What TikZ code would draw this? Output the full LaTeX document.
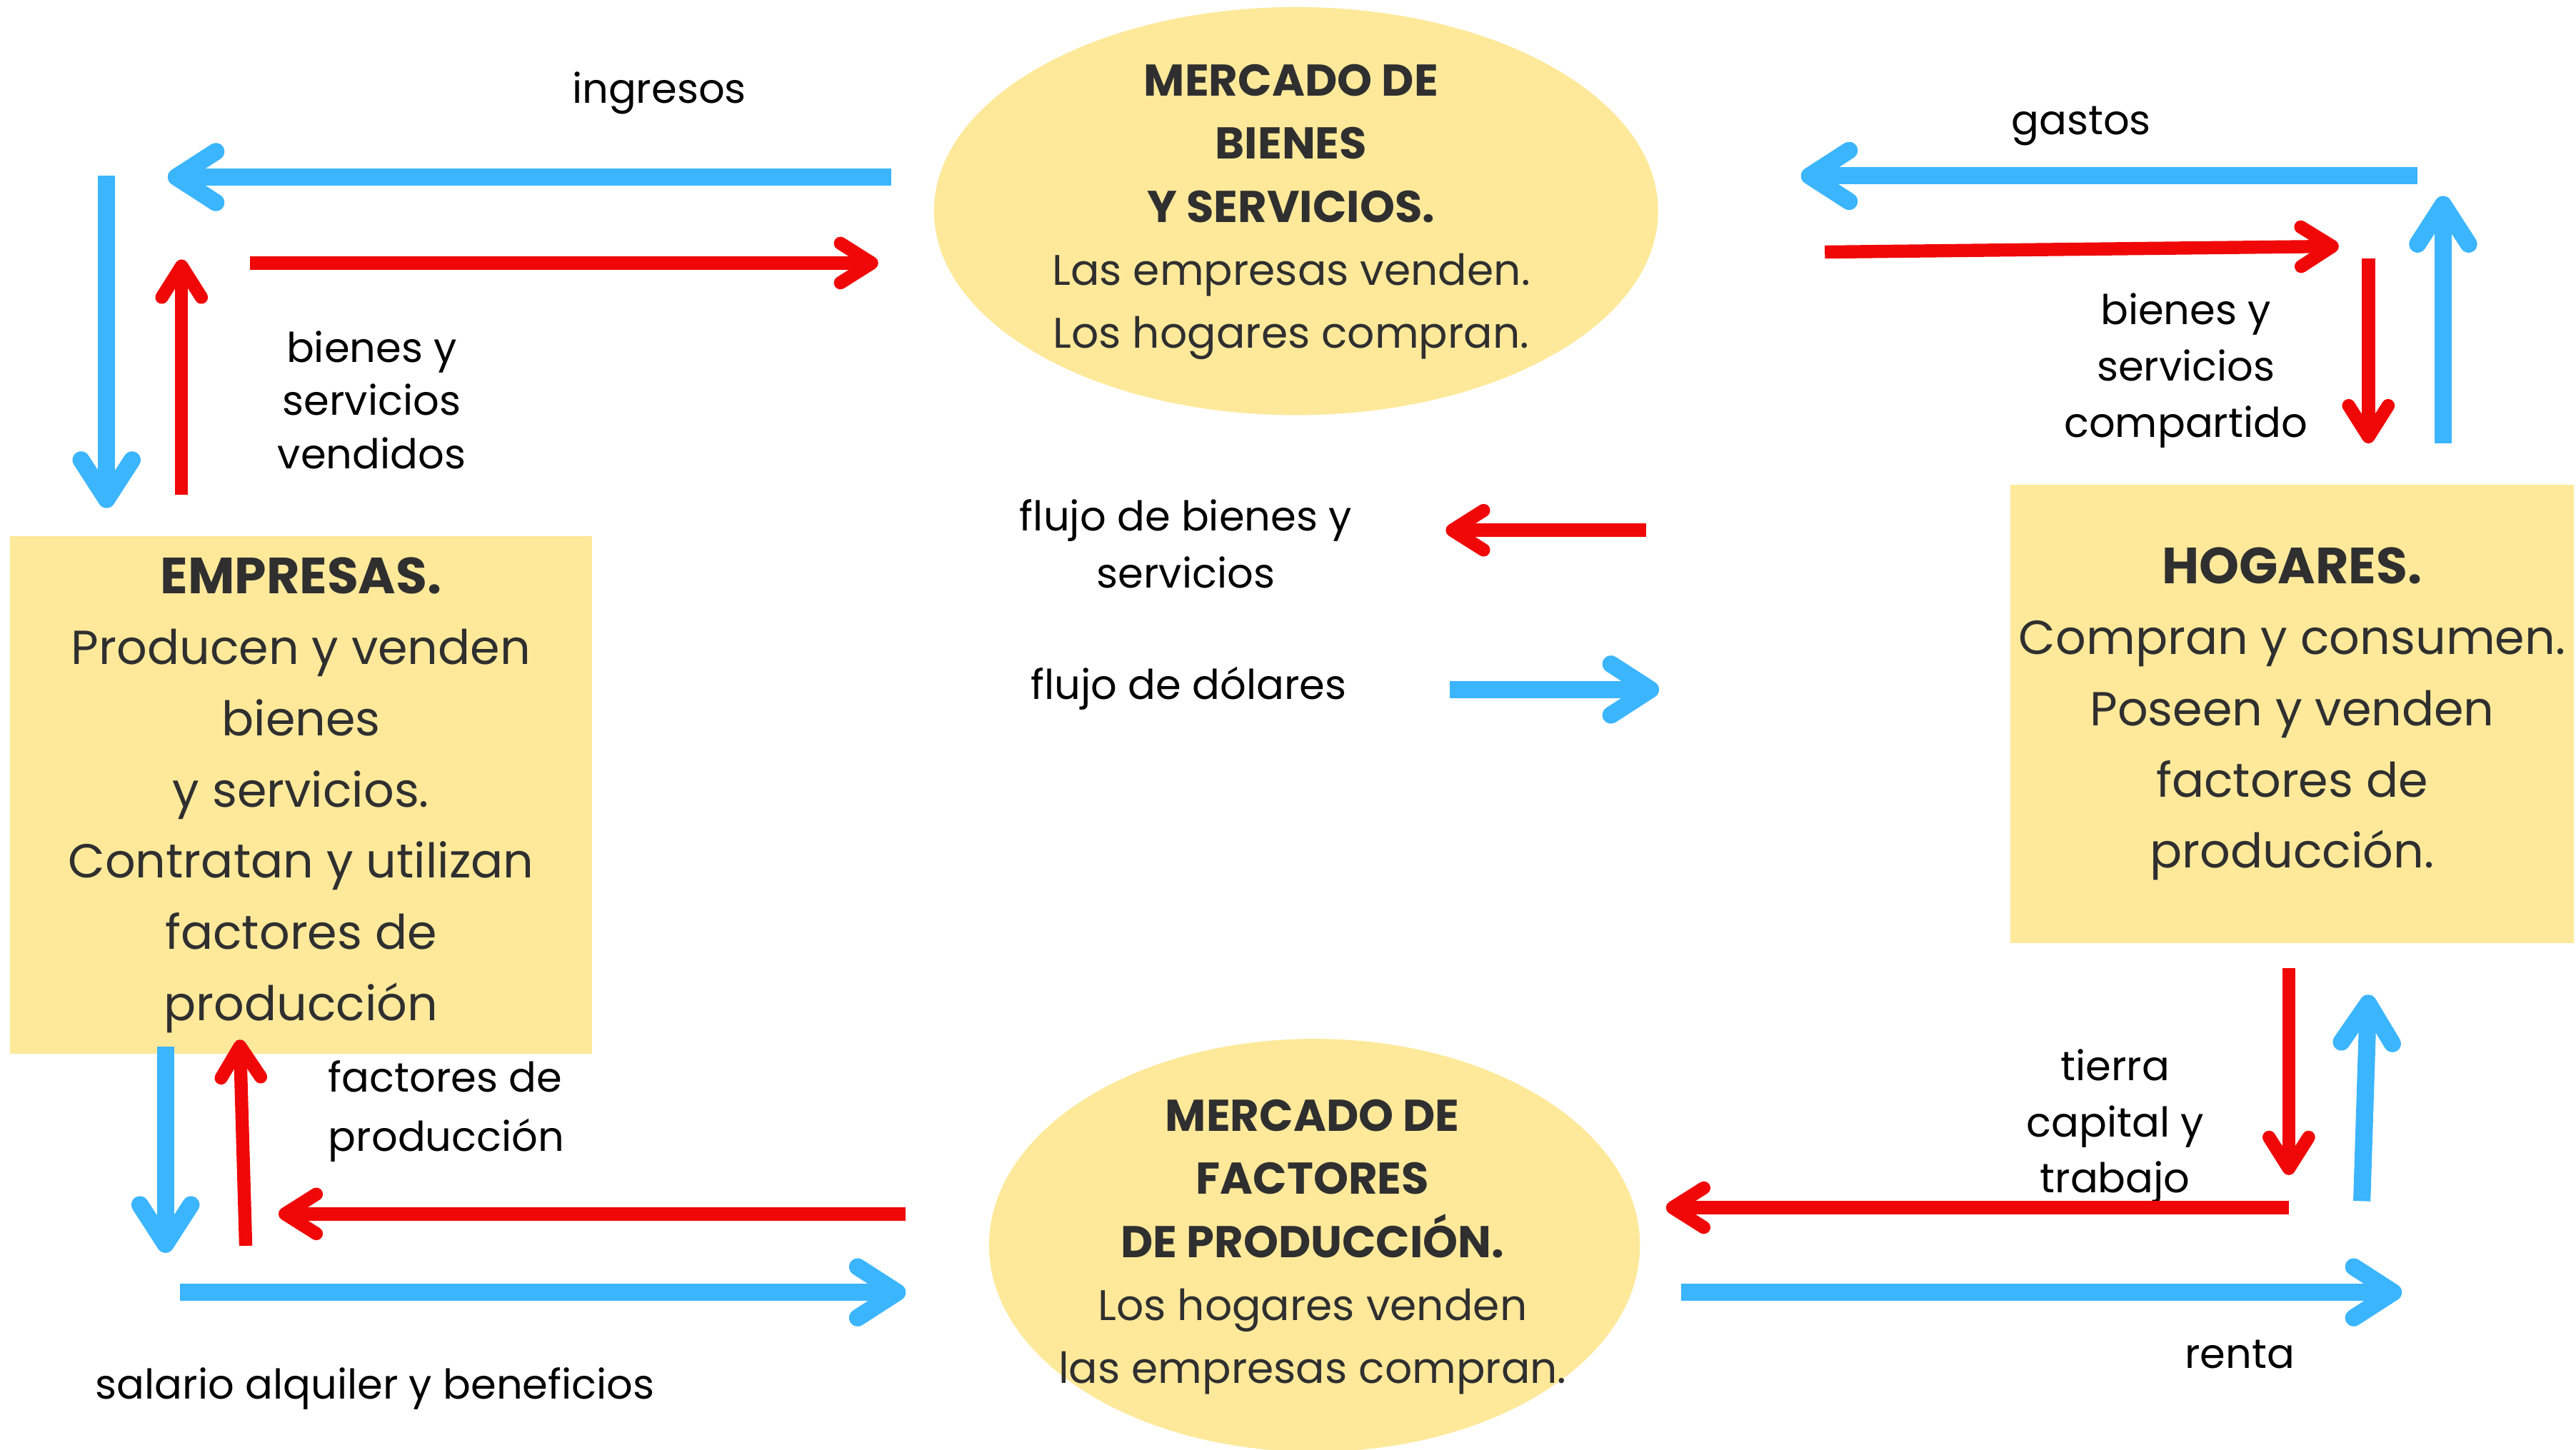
\documentclass[tikz,border=0pt]{standalone}
\usepackage{fontspec}
\setmainfont{Poppins}
\usepackage{tikz}
\usetikzlibrary{arrows.meta,shapes.geometric,positioning}
\definecolor{flowblue}{RGB}{59,181,253}
\definecolor{flowred}{RGB}{240,8,8}
\definecolor{boxyellow}{RGB}{254,233,154}
\definecolor{boxtext}{RGB}{47,47,47}

\begin{document}
\begin{tikzpicture}[x=0.01cm,y=-0.01cm,
  agent/.style={fill=boxyellow,inner sep=0pt,align=center,text=boxtext,font=\fontsize{8.25}{12.3}\selectfont},
  market/.style={ellipse,fill=boxyellow,inner sep=0pt},
  mtext/.style={align=center,text=boxtext,font=\fontsize{7.4}{10.9}\selectfont},
  lbl/.style={anchor=base,align=center,font=\fontsize{7.1}{9.7}\selectfont},
  money/.style={draw=flowblue,line width=1.05mm,-{Straight Barb[round,length=2.4mm,width=3.1mm]}},
  goods/.style={draw=flowred,line width=0.8mm,-{Straight Barb[round,length=1.9mm,width=2.4mm]}}]
\fill[white] (0,0) rectangle (1566.2,881.9);
\useasboundingbox (0,0) rectangle (1566.2,881.9);
% markets
\node[market,minimum width=4.40cm,minimum height=2.48cm] (MB) at (788,128.4) {};
\node[mtext] (MBt) at (785,129) {{\bfseries\fontsize{7.7}{10.9}\selectfont MERCADO DE}\\{\bfseries\fontsize{7.7}{10.9}\selectfont BIENES}\\{\bfseries\fontsize{7.7}{10.9}\selectfont Y SERVICIOS.}\\Las empresas venden.\\Los hogares compran.};
\node[market,minimum width=3.955cm,minimum height=2.51cm] (MF) at (799.2,757.4) {};
\node[mtext] (MFt) at (798,758.5) {{\bfseries\fontsize{7.7}{10.9}\selectfont MERCADO DE}\\{\bfseries\fontsize{7.7}{10.9}\selectfont FACTORES}\\{\bfseries\fontsize{7.7}{10.9}\selectfont DE PRODUCCIÓN.}\\Los hogares venden\\las empresas compran.};
% agents
\node[agent,minimum width=3.54cm,minimum height=3.15cm] (E) at (183,483.5) {{\bfseries\fontsize{8.8}{12.3}\selectfont EMPRESAS.}\\Producen y venden\\bienes\\y servicios.\\Contratan y utilizan\\factores de\\producción};
\node[agent,minimum width=3.42cm,minimum height=2.786cm] (H) at (1393.6,434.1) {{\bfseries\fontsize{8.8}{12.3}\selectfont HOGARES.}\\Compran y consumen.\\Poseen y venden\\factores de\\producción.};
% labels (base = last line)
\node[lbl] (ing) at (400.8,62.7) {ingresos};
\node[lbl,font=\fontsize{7.1}{9.2}\selectfont] (bsv) at (226,285) {bienes y\\servicios\\vendidos};
\node[lbl] (gas) at (1265.4,82) {gastos};
\node[lbl,font=\fontsize{7.1}{9.73}\selectfont] (bsc) at (1329,266) {bienes y\\servicios\\compartido};
\node[lbl,font=\fontsize{7.1}{9.8}\selectfont] (fb) at (721,357.5) {flujo de bienes y\\servicios};
\node[lbl] (fd) at (722.7,425.3) {flujo de dólares};
\node[lbl,anchor=base west,align=left,inner sep=0pt,font=\fontsize{7.1}{10.2}\selectfont] (fp) at (199,700.2) {factores de\\producción};
\node[lbl] (sab) at (228,851) {salario alquiler y beneficios};
\node[lbl,font=\fontsize{7.1}{9.67}\selectfont] (tct) at (1286,725.4) {tierra\\capital y\\trabajo};
\node[lbl] (ren) at (1361.8,832) {renta};
% arrow ends
\coordinate (A1) at (542,107.7);   \coordinate (A2) at (102,107.7);
\coordinate (B1) at (152,160);     \coordinate (B2) at (534,160);
\coordinate (C1) at (64.8,107);    \coordinate (C2) at (64.8,309);
\coordinate (D1) at (110.4,301);   \coordinate (D2) at (110.4,157.8);
\coordinate (E1) at (1470,107);    \coordinate (E2) at (1095,107);
\coordinate (F1) at (1109.5,153.3);\coordinate (F2) at (1422,149.8);
\coordinate (G1) at (1440,157.4);  \coordinate (G2) at (1440,269.7);
\coordinate (H1) at (1485.4,269.7);\coordinate (H2) at (1485.4,119.2);
\coordinate (I1) at (1001,322.5);  \coordinate (I2) at (879,322.5);
\coordinate (J1) at (881.4,419.4); \coordinate (J2) at (1008.7,419.4);
\coordinate (K1) at (100.6,636.4); \coordinate (K2) at (100.6,762);
\coordinate (L1) at (149.4,757.7); \coordinate (L2) at (145.8,632.3);
\coordinate (M1) at (550.7,738.3); \coordinate (M2) at (169.3,738.3);
\coordinate (N1) at (109.6,786);   \coordinate (N2) at (550.7,786);
\coordinate (O1) at (1391.6,589);  \coordinate (O2) at (1391.6,714.7);
\coordinate (P1) at (1436,730.5);  \coordinate (P2) at (1440,605);
\coordinate (Q1) at (1391.6,734.5);\coordinate (Q2) at (1012.9,734.5);
\coordinate (R1) at (1022,786);    \coordinate (R2) at (1460.3,786);
% flows
\draw[money] (A1) -- (A2);
\draw[goods] (B1) -- (B2);
\draw[money] (C1) -- (C2);
\draw[goods] (D1) -- (D2);
\draw[money] (E1) -- (E2);
\draw[goods] (F1) -- (F2);
\draw[goods] (G1) -- (G2);
\draw[money] (H1) -- (H2);
\draw[goods] (I1) -- (I2);
\draw[money] (J1) -- (J2);
\draw[money] (K1) -- (K2);
\draw[goods] (L1) -- (L2);
\draw[goods] (M1) -- (M2);
\draw[money] (N1) -- (N2);
\draw[goods] (O1) -- (O2);
\draw[money] (P1) -- (P2);
\draw[goods] (Q1) -- (Q2);
\draw[money] (R1) -- (R2);
\end{tikzpicture}
\end{document}
